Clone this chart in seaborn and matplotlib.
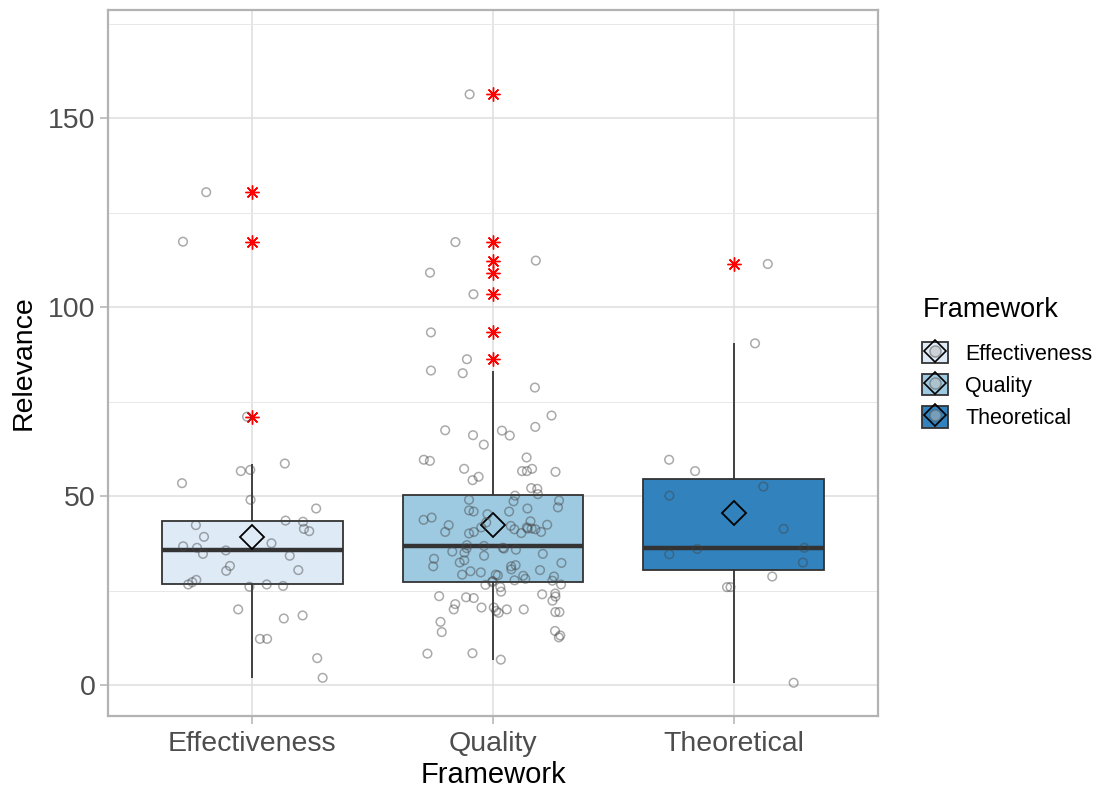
import numpy as np
import pandas as pd
import matplotlib
matplotlib.use("Agg")
import matplotlib.pyplot as plt
import seaborn as sns
from matplotlib.patches import Patch
from matplotlib.lines import Line2D
from matplotlib.legend_handler import HandlerTuple
from matplotlib.ticker import MultipleLocator

# Relevance scores per framework
frameworks = ["Effectiveness", "Quality", "Theoretical"]

effectiveness = [
    130.4, 117.3, 71.0, 58.6, 56.6, 56.9, 53.4, 49.0, 46.7, 43.2, 43.5, 42.3,
    40.7, 41.3, 39.2, 37.5, 36.7, 36.3, 35.6, 34.7, 34.2, 30.4, 31.5, 30.2,
    27.8, 27.2, 26.2, 26.6, 26.6, 26.0, 20.0, 18.4, 17.6, 12.2, 12.2, 7.1, 1.9,
]

quality = [
    156.3, 117.2, 112.3, 109.1, 103.4, 93.3, 86.2, 83.2, 82.5,
    78.7, 71.3, 68.3, 67.3, 66.0, 66.1, 67.4, 63.6, 60.2, 59.3, 59.6,
    57.2, 57.2, 56.6, 56.6, 56.4, 55.1, 54.2, 51.9, 52.1,
    50.1, 50.5, 48.6, 48.8, 49.0, 46.7, 47.0, 46.2, 45.9, 45.9,
    45.2, 44.3, 43.7, 43.3, 43.0, 42.1, 41.4, 41.7, 40.5, 40.5,
    41.2, 40.5, 41.7, 42.4, 41.2, 40.2, 42.3, 41.4, 40.1,
    36.8, 37.0, 36.3, 35.8, 36.1, 36.2, 35.3, 34.7, 35.0, 34.2,
    33.4, 33.0, 31.4, 30.1, 28.9, 32.3, 31.4, 32.4, 31.7, 30.6,
    30.4, 29.0, 27.6, 29.8, 29.2, 29.2, 28.7, 28.1, 27.2, 27.5,
    27.7, 26.5, 25.9, 26.6, 23.4, 24.0, 23.5, 24.7, 23.0, 22.3,
    23.2, 24.2, 21.4, 20.5, 19.3, 20.0, 19.3, 19.1, 20.0, 20.0,
    19.6, 20.5, 16.7, 14.0, 14.3, 12.6, 13.1, 8.4, 8.3, 6.7,
]

theoretical = [
    111.4, 90.4, 59.6, 56.6, 52.5, 50.1, 41.3, 36.3, 36.0, 34.6,
    32.4, 28.7, 25.9, 25.9, 0.6,
]

fill_colors = ["#DEEBF7", "#9ECAE1", "#3182BD"]

df = pd.DataFrame({
    "Framework": (["Effectiveness"] * len(effectiveness)
                  + ["Quality"] * len(quality)
                  + ["Theoretical"] * len(theoretical)),
    "Relevance": effectiveness + quality + theoretical,
})

sns.set_theme(style="white")
plt.rcParams["font.family"] = ["Liberation Sans", "DejaVu Sans"]

fig = plt.figure(figsize=(11.12, 7.9), dpi=100)
ax = fig.add_axes([0.0971, 0.0937, 0.6925, 0.8936])

palette = dict(zip(frameworks, fill_colors))
edge = "#333333"

sns.boxplot(
    data=df, x="Framework", y="Relevance", hue="Framework", order=frameworks,
    palette=palette, width=0.75, whis=1.5, saturation=1, legend=False,
    linecolor=edge, linewidth=1.3,
    boxprops=dict(edgecolor=edge, linewidth=1.3),
    medianprops=dict(color=edge, linewidth=3.2),
    whiskerprops=dict(color=edge, linewidth=1.3),
    capprops=dict(linewidth=0),
    flierprops=dict(marker=(8, 2, 0), markersize=10, markeredgecolor="red",
                    markerfacecolor="red", markeredgewidth=1.0),
    showmeans=True,
    meanprops=dict(marker="D", markersize=12, markerfacecolor="none",
                   markeredgecolor="black", markeredgewidth=1.3),
    ax=ax, zorder=2,
)

np.random.seed(11)
sns.stripplot(
    data=df, x="Framework", y="Relevance", order=frameworks, jitter=0.3,
    marker="o", size=6.2, facecolor="none", edgecolor="#444444", linewidth=1.1,
    alpha=0.45, color="none", ax=ax, zorder=3,
)
for coll in ax.collections:
    coll.set_facecolor("none")

ax.set_xlim(-0.6, 2.6)
ax.set_ylim(-8.2, 178.6)

ax.yaxis.set_major_locator(MultipleLocator(50))
ax.yaxis.set_minor_locator(MultipleLocator(25))
ax.grid(which="major", color="#DEDEDE", linewidth=1.1, zorder=0)
ax.grid(which="minor", axis="y", color="#E8E8E8", linewidth=0.7, zorder=0)
ax.set_axisbelow(True)

for sp in ax.spines.values():
    sp.set_color("#B3B3B3")
    sp.set_linewidth(1.6)

ax.tick_params(axis="both", which="major", length=6, width=1.1,
               color="#B3B3B3", labelsize=20.5, labelcolor="#4D4D4D",
               left=True, bottom=True)
ax.tick_params(axis="x", which="major", pad=5)
ax.tick_params(axis="y", which="major", pad=3)
ax.tick_params(axis="y", which="minor", length=0)

ax.set_xlabel("Framework", fontsize=21, color="black", labelpad=3)
ax.set_ylabel("Relevance", fontsize=20.5, color="black", labelpad=8)

# Legend keys: box fill with diamond mean and point glyph
handles = []
for c in fill_colors:
    box = Patch(facecolor=c, edgecolor=edge, linewidth=1.3)
    dia = Line2D([], [], marker="D", markersize=11, markerfacecolor="none",
                 markeredgecolor="black", markeredgewidth=1.2, linestyle="none")
    pt = Line2D([], [], marker="o", markersize=8, markerfacecolor="#BBBBBB",
                markeredgecolor="#555555", markeredgewidth=1.1, alpha=0.5,
                linestyle="none")
    handles.append((box, dia, pt))

leg = fig.legend(
    handles, frameworks, title="Framework",
    handler_map={tuple: HandlerTuple(ndivide=1)},
    loc="upper left", bbox_to_anchor=(0.812, 0.649), frameon=False,
    fontsize=15.5, title_fontsize=19.5, handlelength=1.2, handleheight=1.15,
    labelspacing=0.42, handletextpad=0.8, alignment="left",
)
leg._legend_box.sep = 14
leg.get_title().set_color("black")
for t in leg.get_texts():
    t.set_color("black")

fig.savefig("out.png", dpi=100)
